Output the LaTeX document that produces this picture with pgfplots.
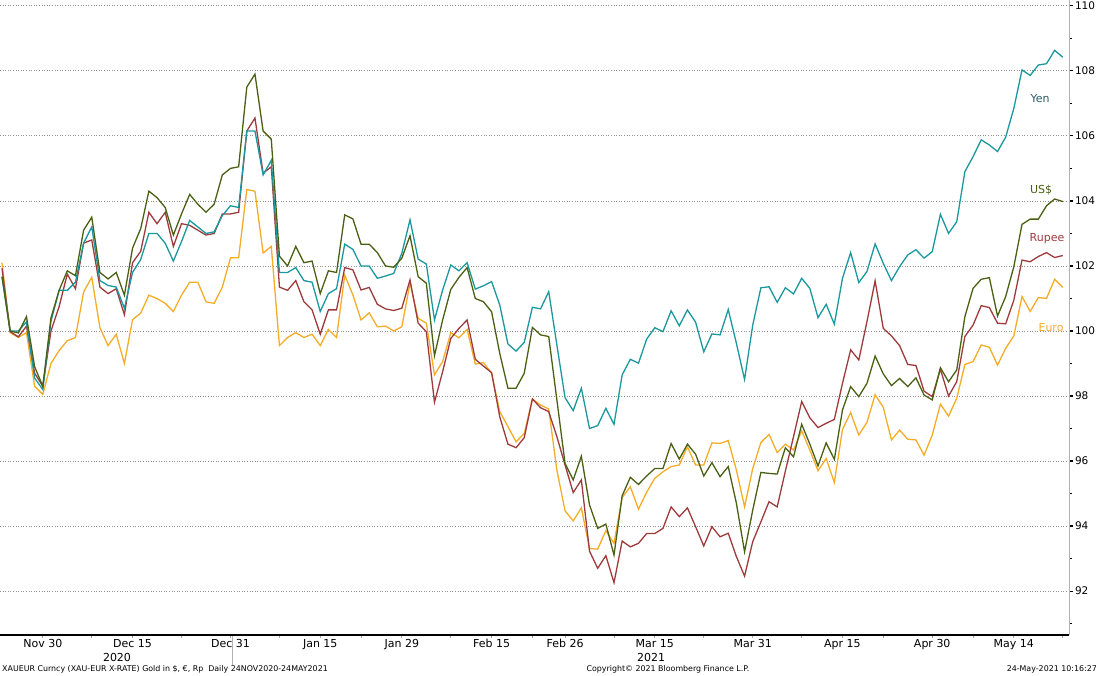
\documentclass[border=0pt]{standalone}
\usepackage{pgfplots}
\pgfplotsset{compat=1.18}
\usepackage{pgfplotstable}
\usepackage{fontspec}
\setmainfont{DejaVu Sans}
\definecolor{cyen}{RGB}{26,152,158}
\definecolor{cusd}{RGB}{74,96,20}
\definecolor{crup}{RGB}{158,58,60}
\definecolor{ceur}{RGB}{245,172,40}
\definecolor{lyen}{RGB}{40,90,100}
\pgfplotstableread{
idx yen usd rup eur
0 101.67 101.67 101.93 102.10
1 100.00 100.00 99.98 99.95
2 100.00 99.94 99.82 99.80
3 100.28 100.44 100.15 99.95
4 98.55 98.90 98.70 98.30
5 98.20 98.30 98.30 98.05
6 100.30 100.40 100.00 99.00
7 101.25 101.25 100.75 99.40
8 101.25 101.85 101.75 99.70
9 101.50 101.70 101.30 99.80
10 102.70 103.10 102.70 101.20
11 103.20 103.50 102.80 101.65
12 101.55 101.80 101.35 100.10
13 101.40 101.60 101.15 99.55
14 101.35 101.80 101.30 99.90
15 100.70 101.10 100.50 99.00
16 101.80 102.55 102.10 100.35
17 102.20 103.15 102.45 100.55
18 103.00 104.30 103.65 101.10
19 103.00 104.10 103.30 101.00
20 102.70 103.80 103.65 100.85
21 102.15 102.95 102.60 100.60
22 102.75 103.60 103.30 101.10
23 103.40 104.20 103.25 101.50
24 103.20 103.90 103.10 101.50
25 103.00 103.65 102.95 100.90
26 103.05 103.90 103.00 100.85
27 103.55 104.80 103.60 101.35
28 103.85 105.00 103.60 102.25
29 103.80 105.05 103.65 102.25
30 106.15 107.50 106.15 104.35
31 106.15 107.90 106.55 104.30
32 104.80 106.15 104.85 102.40
33 105.25 105.90 105.05 102.60
34 101.80 102.30 101.35 99.55
35 101.80 102.00 101.25 99.80
36 101.95 102.60 101.55 99.95
37 101.55 102.10 100.90 99.80
38 101.50 102.15 100.65 99.90
39 100.60 101.15 99.90 99.55
40 101.15 101.85 100.65 100.05
41 101.30 101.80 100.65 99.80
42 102.67 103.57 101.95 101.72
43 102.51 103.45 101.88 101.11
44 102.00 102.67 101.26 100.34
45 102.00 102.67 101.34 100.56
46 101.62 102.41 100.82 100.13
47 101.69 102.00 100.68 100.15
48 101.77 101.96 100.63 100.00
49 102.39 102.24 100.70 100.13
50 103.42 102.93 101.57 101.47
51 102.21 101.67 100.24 100.39
52 102.06 101.47 99.98 100.24
53 100.34 99.24 97.81 98.65
54 101.26 100.34 98.75 99.06
55 102.03 101.28 99.77 99.95
56 101.85 101.65 100.08 99.79
57 102.10 101.95 100.34 100.05
58 101.29 101.00 99.13 98.98
59 101.39 100.90 98.92 99.03
60 101.52 100.59 98.72 98.70
61 100.80 99.31 97.36 97.52
62 99.60 98.24 96.52 97.06
63 99.38 98.24 96.41 96.59
64 99.65 98.70 96.72 96.85
65 100.73 100.11 97.91 97.91
66 100.68 99.88 97.64 97.72
67 101.21 99.83 97.52 97.60
68 99.57 97.88 96.75 95.72
69 97.95 95.93 95.88 94.47
70 97.55 95.42 95.03 94.16
71 98.24 96.15 95.42 94.56
72 97.00 94.65 93.23 93.31
73 97.09 93.93 92.70 93.29
74 97.62 94.06 93.09 93.86
75 97.13 93.11 92.26 93.47
76 98.65 94.93 93.54 94.88
77 99.13 95.50 93.36 95.21
78 99.01 95.28 93.47 94.52
79 99.75 95.54 93.77 95.04
80 100.10 95.77 93.77 95.47
81 99.98 95.77 93.93 95.67
82 100.62 96.54 94.59 95.83
83 100.16 96.06 94.29 95.88
84 100.65 96.52 94.56 96.44
85 100.27 96.21 93.98 95.88
86 99.36 95.54 93.39 95.88
87 99.91 95.95 93.98 96.56
88 99.88 95.52 93.67 96.54
89 100.66 95.83 93.78 96.63
90 99.62 94.70 93.06 95.72
91 98.51 93.21 92.46 94.59
92 100.18 94.49 93.52 95.77
93 101.33 95.65 94.13 96.57
94 101.36 95.62 94.75 96.82
95 100.88 95.60 94.59 96.26
96 101.33 96.41 95.69 96.52
97 101.14 96.13 96.75 96.34
98 101.62 97.13 97.83 96.93
99 101.31 96.52 97.33 96.34
100 100.41 95.85 97.03 95.70
101 100.82 96.56 97.16 96.08
102 100.21 96.05 97.28 95.34
103 101.62 97.57 98.39 96.97
104 102.41 98.29 99.42 97.49
105 101.49 97.98 99.11 96.80
106 101.83 98.39 100.29 97.19
107 102.68 99.23 101.54 98.04
108 102.08 98.68 100.08 97.65
109 101.55 98.32 99.85 96.65
110 101.98 98.54 99.55 96.95
111 102.34 98.29 98.97 96.67
112 102.50 98.56 98.94 96.65
113 102.24 98.03 98.15 96.18
114 102.44 97.88 97.98 96.80
115 103.59 98.87 98.82 97.75
116 103.00 98.44 98.00 97.38
117 103.36 98.80 98.44 97.93
118 104.90 100.44 99.83 98.97
119 105.36 101.31 100.18 99.06
120 105.88 101.59 100.78 99.57
121 105.72 101.64 100.72 99.50
122 105.52 100.46 100.24 98.95
123 105.96 101.06 100.22 99.47
124 106.85 101.98 100.95 99.85
125 108.03 103.28 102.18 101.06
126 107.86 103.44 102.13 100.60
127 108.18 103.44 102.29 101.03
128 108.22 103.85 102.41 101.00
129 108.63 104.06 102.26 101.59
130 108.42 103.98 102.32 101.34
}\data

\begin{document}
\begin{tikzpicture}[x=1pt,y=1pt]
\begin{axis}[
  scale only axis, width=1069pt, height=635pt,
  xmin=-0.245, xmax=130.76, ymin=90.65, ymax=110.18,
  axis x line=bottom, axis y line=right,
  x axis line style={-, black, line width=1.2pt},
  y axis line style={-, gray!60, line width=1pt},
  xtick={5,16,28,39,49,60,69,80,92,103,114,124},
  xticklabels={Nov 30,Dec 15,Dec 31,Jan 15,Jan 29,Feb 15,Feb 26,Mar 15,Mar 31,Apr 15,Apr 30,May 14},
  minor xtick={11,22,34,44,55,65,75,86,98,108,119,130},
  ytick={92,94,...,110},
  minor ytick={91,93,...,109},
  tick align=outside,
  major tick length=3.5pt, minor tick length=3pt,
  xtick style={gray!70, line width=0.8pt},
  ytick style={black, line width=1.2pt},
  ymajorgrids,
  major grid style={gray!85, dash pattern=on 1pt off 1.6pt, line width=0.8pt},
  /pgf/number format/assume math mode=true,
  yticklabel style={font=\fontsize{10.5}{13}\selectfont, xshift=-1pt},
  xticklabel style={font=\fontsize{11}{13}\selectfont, yshift=3pt},
  clip=true,
]
\coordinate (O) at (rel axis cs:0,0);
\addplot[ceur, line width=1.3pt] table[x=idx, y=eur] {\data};
\addplot[crup, line width=1.3pt] table[x=idx, y=rup] {\data};
\addplot[cyen, line width=1.3pt] table[x=idx, y=yen] {\data};
\addplot[cusd, line width=1.3pt] table[x=idx, y=usd] {\data};
\end{axis}
\pgfresetboundingbox
\begin{scope}[shift={(O)}]
\path[use as bounding box] (0,-41) rectangle (1099,635);
\draw[gray!60, line width=0.8pt] (232,-1) -- (232,-30);
\node[font=\fontsize{11}{13}\selectfont] at (117,-22) {2020};
\node[font=\fontsize{11}{13}\selectfont] at (651,-22) {2021};
\node[font=\fontsize{7.9}{9}\selectfont, anchor=west, inner sep=0pt] at (2,-34) {XAUEUR Curncy (XAU-EUR X-RATE) Gold in \$, €, Rp\ \ Daily 24NOV2020-24MAY2021};
\node[font=\fontsize{7.9}{9}\selectfont, inner sep=0pt] at (668,-34) {Copyright© 2021 Bloomberg Finance L.P.};
\node[font=\fontsize{7.9}{9}\selectfont, anchor=east, inner sep=0pt] at (1097,-34) {24-May-2021 10:16:27};
\node[font=\fontsize{11}{13}\selectfont, text=lyen] at (1040,536) {Yen};
\node[font=\fontsize{11}{13}\selectfont, text=cusd] at (1041,445) {US\$};
\node[font=\fontsize{11}{13}\selectfont, text=crup] at (1047,396) {Rupee};
\node[font=\fontsize{11}{13}\selectfont, text=ceur] at (1051,307) {Euro};
\end{scope}
\end{tikzpicture}
\end{document}
